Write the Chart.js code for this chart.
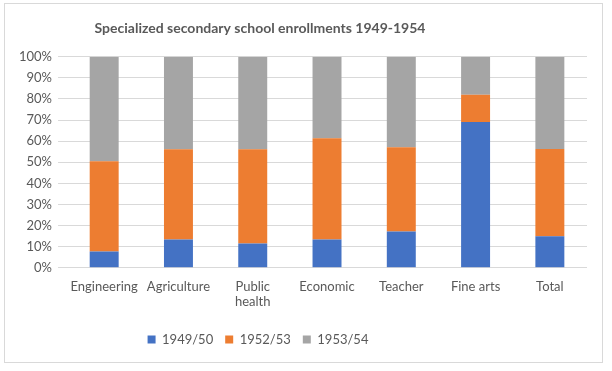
<!DOCTYPE html>
<html>
<head>
<meta charset="utf-8">
<script src="https://cdn.jsdelivr.net/npm/chart.js@4/dist/chart.umd.min.js"></script>
<style>
  html, body { margin:0; padding:0; background:#fff; }
  #box { position:absolute; left:4px; top:3px; width:597px; height:358px; border:1px solid #d9d9d9; }
</style>
</head>
<body>
<div id="box"><canvas id="c"></canvas></div>
<script>
/* Specialized secondary school enrollments — 100% stacked columns */
const categories = ['Engineering', 'Agriculture', ['Public', 'health'], 'Economic', 'Teacher', 'Fine arts', 'Total'];
const s1949 = [7.7, 13.4, 11.5, 13.4, 17.2, 69.1, 15.0];
const s1952 = [42.8, 42.8, 44.7, 48.0, 39.9, 12.9, 41.3];
const s1953 = [49.5, 43.8, 43.8, 38.6, 42.9, 18.0, 43.7];
const yTicks = [0, 10, 20, 30, 40, 50, 60, 70, 80, 90, 100];

const txt = '#595959';
const font = { family: 'Lato', size: 13 };

const bar = (label, data, color) => ({
  label, data, backgroundColor: color, borderWidth: 0,
  barPercentage: 0.39, categoryPercentage: 1
});

// Excel puts the title and legend a bit left of centre
const shiftLeft = {
  id: 'shiftLeft',
  afterLayout(chart) {
    const l = chart.legend, t = chart.titleBlock;
    l.left -= 42; l.right -= 42;
    t.left -= 40; t.right -= 40;
  }
};

new Chart(document.getElementById('c').getContext('2d'), {
  type: 'bar',
  data: {
    labels: categories,
    datasets: [
      bar('1949/50', s1949, '#4472C4'),
      bar('1952/53', s1952, '#ED7D31'),
      bar('1953/54', s1953, '#A5A5A5')
    ]
  },
  options: {
    responsive: true, maintainAspectRatio: false, animation: false,
    layout: { padding: { left: 8, right: 15, top: 0, bottom: 6 } },
    plugins: {
      title: {
        display: true, text: 'Specialized secondary school enrollments 1949-1954',
        color: txt, font: { family: 'Lato', size: 14, weight: 'bold' },
        padding: { top: 16, bottom: 20 }
      },
      legend: {
        position: 'bottom',
        labels: { color: txt, font, boxWidth: 8, boxHeight: 8, padding: 12 }
      },
      tooltip: { enabled: false }
    },
    scales: {
      x: {
        stacked: true,
        grid: { display: false, drawTicks: false }, border: { display: false },
        ticks: { color: txt, font, maxRotation: 0, autoSkip: false, padding: 11 }
      },
      y: {
        stacked: true, min: 0, max: 100,
        afterBuildTicks: s => { s.ticks = yTicks.map(v => ({ value: v })); },
        grid: { color: '#d9d9d9', drawTicks: true, tickLength: 9 },
        border: { display: false },
        ticks: { color: txt, font, padding: 6, callback: v => v + '%' }
      }
    }
  },
  plugins: [shiftLeft]
});
</script>
</body>
</html>
